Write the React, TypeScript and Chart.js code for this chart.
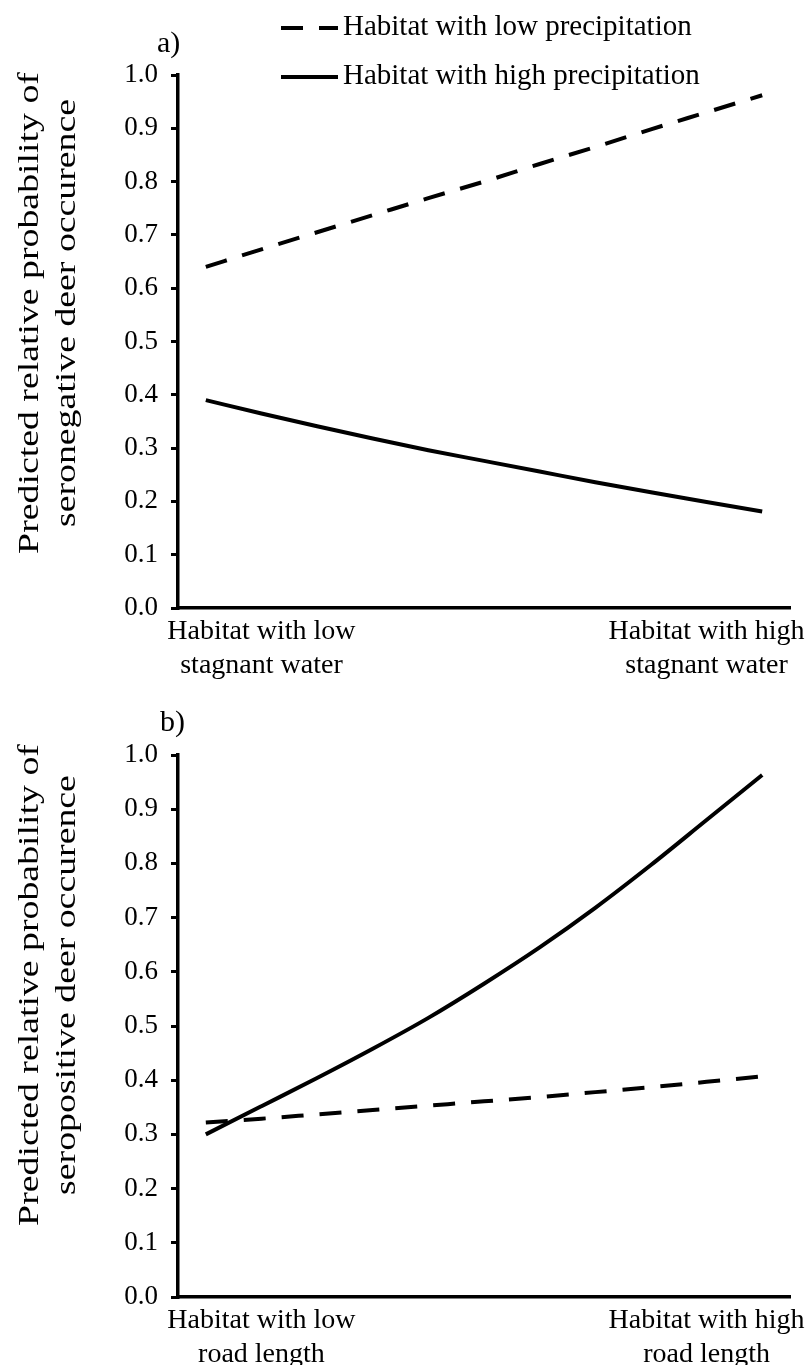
import React, { useEffect, useRef } from 'react';
import { Chart, registerables } from 'chart.js';

Chart.register(...registerables);

const SERIF = "'Liberation Serif', 'Times New Roman', Times, serif";

// ---- data ----
const categoriesA: (string | string[])[] = ['', ['Habitat with low', 'stagnant water'], '', '', '', '', '', '', '', ['Habitat with high', 'stagnant water'], ''];
const categoriesB: (string | string[])[] = ['', ['Habitat with low', 'road length'], '', '', '', '', '', '', '', ['Habitat with high', 'road length'], ''];

const seriesLabels = ['Habitat with low precipitation', 'Habitat with high precipitation'];

const lowPrecipA = [0.64, 0.673, 0.705, 0.737, 0.769, 0.8, 0.833, 0.865, 0.898, 0.93, 0.962];
const highPrecipA = [0.39, 0.365, 0.341, 0.318, 0.296, 0.276, 0.256, 0.236, 0.217, 0.199, 0.181];

const lowPrecipB = [0.322, 0.329, 0.337, 0.345, 0.353, 0.361, 0.369, 0.378, 0.387, 0.397, 0.407];
const highPrecipB = [0.3, 0.352, 0.404, 0.458, 0.515, 0.578, 0.645, 0.718, 0.797, 0.88, 0.963];

const yTickLabels = ['0.0', '0.1', '0.2', '0.3', '0.4', '0.5', '0.6', '0.7', '0.8', '0.9', '1.0'];

const yTitleA = ['Predicted relative probability of', 'seronegative deer occurence'];
const yTitleB = ['Predicted relative probability of', 'seropositive deer occurence'];
const panelLabels = ['a)', 'b)'];

// ---- decoration plugin ----
const decorPlugin = {
  id: 'decor',
  afterDraw(chart: any, _args: any, o: any) {
    const ctx = chart.ctx as CanvasRenderingContext2D;
    ctx.save();
    ctx.fillStyle = '#000';
    if (o.panel) {
      ctx.font = `${o.panel.size}px ${SERIF}`;
      ctx.textAlign = 'left';
      ctx.textBaseline = 'alphabetic';
      ctx.fillText(o.panel.text, o.panel.x, o.panel.y);
    }
    if (o.title) {
      ctx.save();
      ctx.translate(o.title.cx, o.title.cy);
      ctx.rotate(-Math.PI / 2);
      ctx.scale(o.title.stretch, 1);
      ctx.font = `${o.title.size}px ${SERIF}`;
      ctx.textAlign = 'center';
      ctx.textBaseline = 'alphabetic';
      o.title.lines.forEach((l: string, i: number) => ctx.fillText(l, 0, i * o.title.gap));
      ctx.restore();
    }
    if (o.legend) {
      chart.data.datasets.forEach((ds: any, i: number) => {
        const yl = o.legend.lineY + i * o.legend.rowGap;
        const yt = o.legend.textY + i * o.legend.rowGap;
        ctx.save();
        ctx.strokeStyle = ds.borderColor;
        ctx.lineWidth = ds.borderWidth;
        ctx.lineCap = 'butt';
        ctx.setLineDash(ds.borderDash || []);
        ctx.beginPath();
        ctx.moveTo(o.legend.x, yl);
        ctx.lineTo(o.legend.x + o.legend.len, yl);
        ctx.stroke();
        ctx.restore();
        ctx.font = `${o.legend.size}px ${SERIF}`;
        ctx.textAlign = 'left';
        ctx.textBaseline = 'alphabetic';
        ctx.fillText(ds.label, o.legend.x + o.legend.len + 5, yt);
      });
    }
    ctx.restore();
  },
};

function makeConfig(p: {
  labels: (string | string[])[];
  low: number[];
  high: number[];
  top: number;
  xHeight: number;
  decor: any;
}): any {
  return {
    type: 'line',
    data: {
      labels: p.labels,
      datasets: [
        {
          label: seriesLabels[0],
          data: p.low,
          borderColor: '#000',
          borderWidth: 4,
          borderDash: [22, 16],
          borderCapStyle: 'butt',
          pointRadius: 0,
          cubicInterpolationMode: 'monotone',
          fill: false,
        },
        {
          label: seriesLabels[1],
          data: p.high,
          borderColor: '#000',
          borderWidth: 4,
          pointRadius: 0,
          cubicInterpolationMode: 'monotone',
          fill: false,
        },
      ],
    },
    options: {
      responsive: false,
      animation: false,
      devicePixelRatio: 1,
      layout: { padding: { top: p.top, right: 19, left: 0, bottom: 0 } },
      plugins: {
        legend: { display: false },
        tooltip: { enabled: false },
        decor: p.decor,
      },
      scales: {
        x: {
          type: 'category',
          offset: true,
          grid: { display: true, drawOnChartArea: false, drawTicks: false },
          border: { color: '#000', width: 3.5 },
          ticks: {
            autoSkip: false,
            maxRotation: 0,
            minRotation: 0,
            padding: 7,
            color: '#000',
            font: { family: SERIF, size: 28, lineHeight: 1.2 },
          },
          afterFit: (s: any) => {
            s.height = p.xHeight;
          },
        },
        y: {
          min: 0,
          max: 1,
          ticks: {
            stepSize: 0.1,
            color: '#000',
            padding: 13,
            font: { family: SERIF, size: 27 },
            callback: (_v: any, i: number) => yTickLabels[i],
          },
          grid: { drawOnChartArea: false, drawTicks: true, tickLength: 7, color: '#000', lineWidth: 3 },
          border: { color: '#000', width: 3.5 },
          afterFit: (s: any) => {
            s.width = 178;
          },
        },
      },
    },
    plugins: [decorPlugin],
  };
}

export default function App() {
  const refA = useRef<HTMLCanvasElement>(null);
  const refB = useRef<HTMLCanvasElement>(null);

  useEffect(() => {
    const a = new Chart(
      refA.current!,
      makeConfig({
        labels: categoriesA,
        low: lowPrecipA,
        high: highPrecipA,
        top: 75,
        xHeight: 82,
        decor: {
          panel: { text: panelLabels[0], x: 157, y: 52, size: 30 },
          title: { lines: yTitleA, cx: 38, cy: 313, size: 30, gap: 37, stretch: 1.26 },
          legend: { x: 281, len: 57, lineY: 28, textY: 35, rowGap: 49, size: 29 },
        },
      })
    );
    const b = new Chart(
      refB.current!,
      makeConfig({
        labels: categoriesB,
        low: lowPrecipB,
        high: highPrecipB,
        top: 65,
        xHeight: 68,
        decor: {
          panel: { text: panelLabels[1], x: 160, y: 41, size: 30 },
          title: { lines: yTitleB, cx: 38, cy: 295, size: 30, gap: 37, stretch: 1.26 },
        },
      })
    );
    return () => {
      a.destroy();
      b.destroy();
    };
  }, []);

  return (
    <div style={{ position: 'absolute', left: 0, top: 0, width: 809, height: 1365, background: '#fff' }}>
      <canvas ref={refA} width={809} height={690} style={{ position: 'absolute', left: 0, top: 0 }} />
      <canvas ref={refB} width={809} height={675} style={{ position: 'absolute', left: 0, top: 690 }} />
    </div>
  );
}
